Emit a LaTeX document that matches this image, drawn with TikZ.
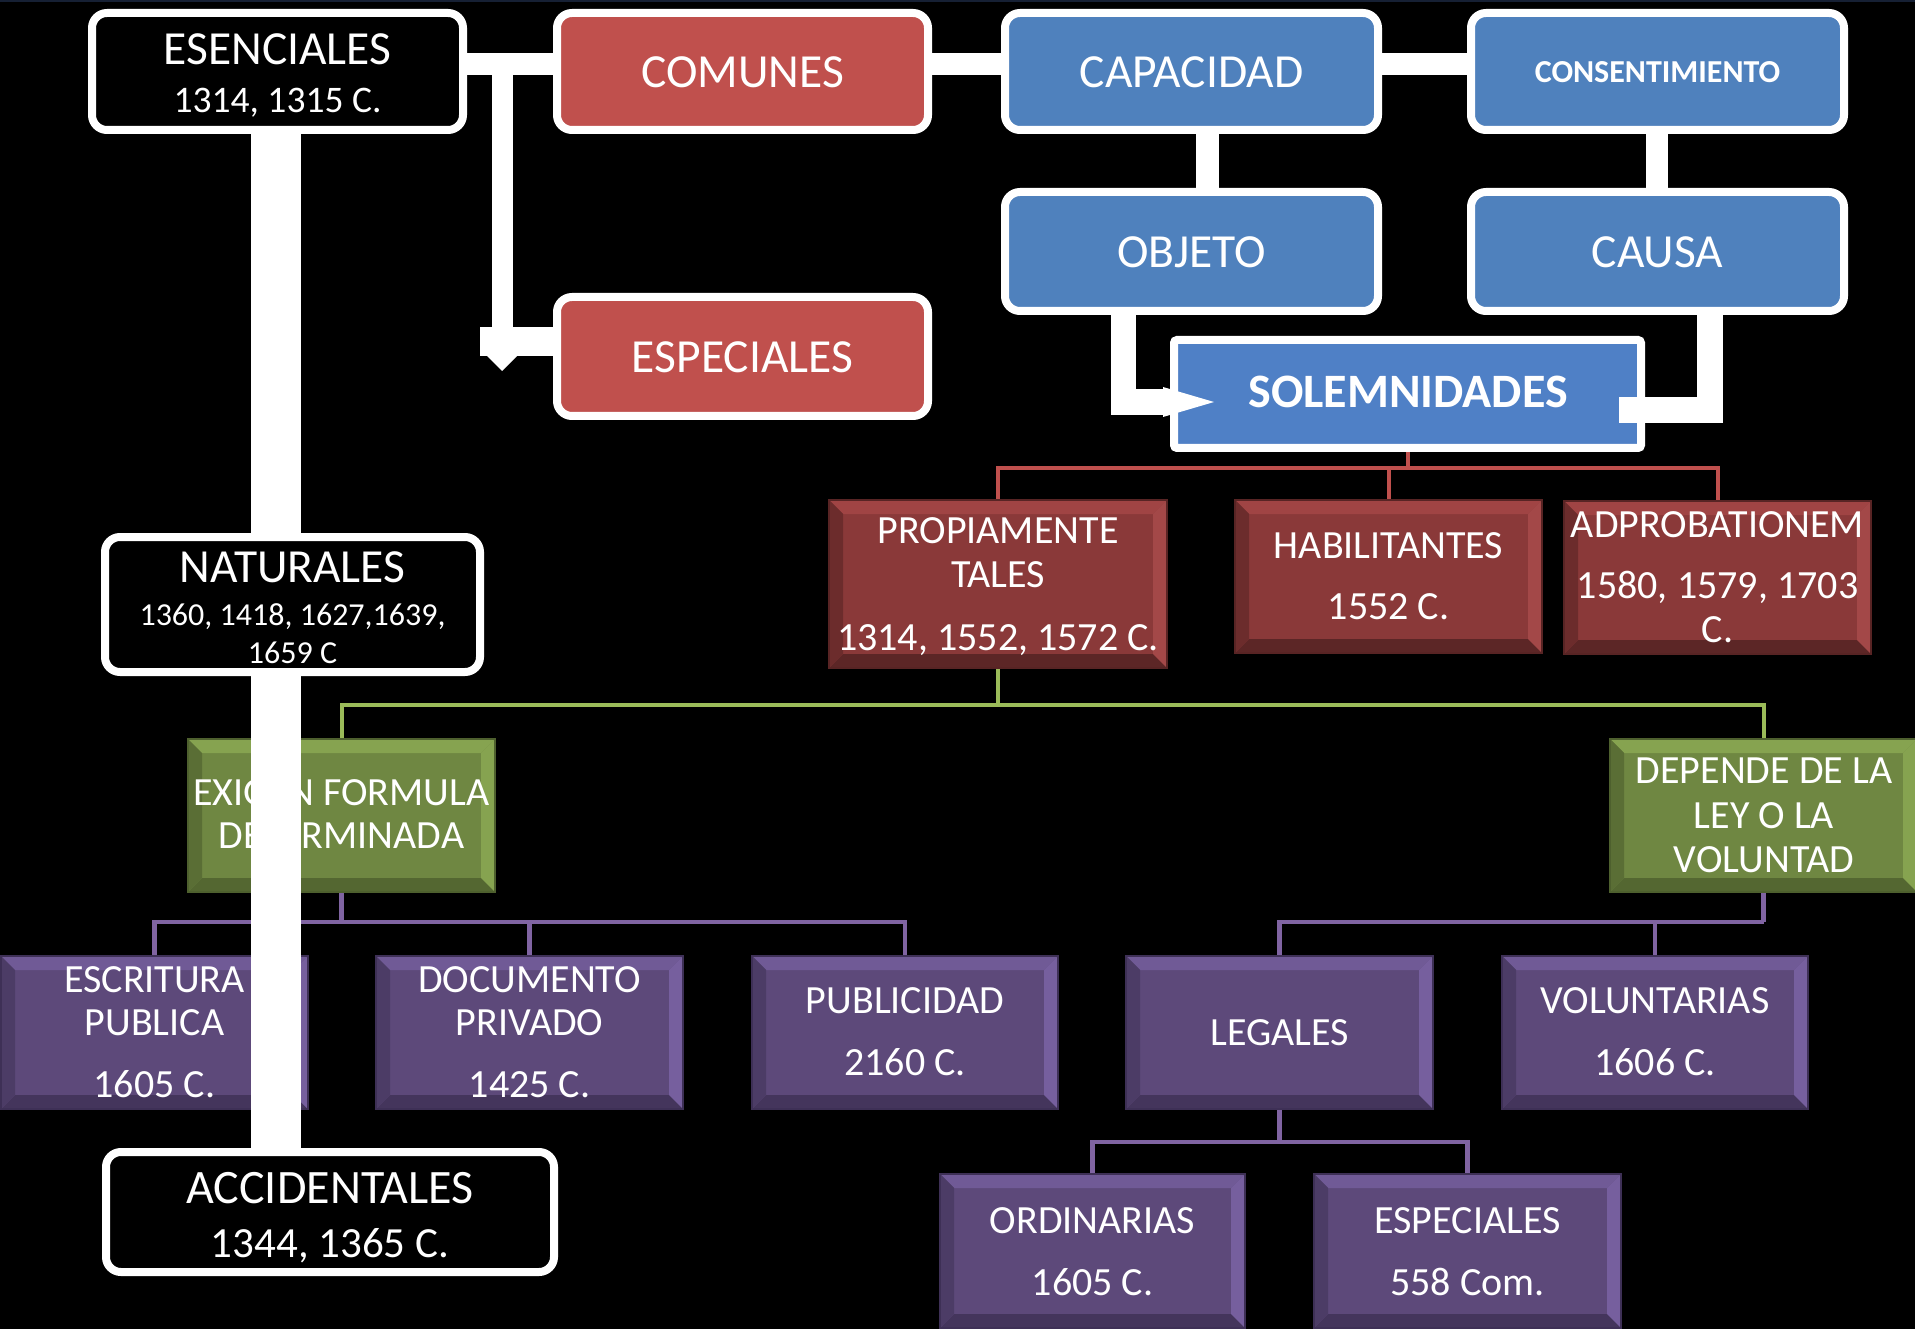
\documentclass[tikz,border=0pt]{standalone}
\usepackage{fontspec}
\newfontfamily\fcal{Carlito}
\usetikzlibrary{calc}
\definecolor{topblue}{RGB}{79,129,189}
\definecolor{solblue}{RGB}{79,128,198}
\definecolor{topred}{RGB}{192,80,77}
\definecolor{navy}{RGB}{22,32,52}
\definecolor{redF}{RGB}{138,57,57}
\definecolor{redT}{RGB}{160,68,68}
\definecolor{redL}{RGB}{108,44,44}
\definecolor{redR}{RGB}{163,72,72}
\definecolor{redB}{RGB}{92,38,38}
\definecolor{redD}{RGB}{88,36,36}
\definecolor{purF}{RGB}{93,73,122}
\definecolor{purT}{RGB}{112,90,150}
\definecolor{purL}{RGB}{76,60,102}
\definecolor{purR}{RGB}{118,95,158}
\definecolor{purB}{RGB}{68,53,92}
\definecolor{purD}{RGB}{62,48,86}
\definecolor{grnF}{RGB}{111,135,66}
\definecolor{grnT}{RGB}{134,163,80}
\definecolor{grnL}{RGB}{90,110,53}
\definecolor{grnR}{RGB}{134,163,80}
\definecolor{grnB}{RGB}{84,103,49}
\definecolor{grnD}{RGB}{78,96,46}
\definecolor{lnred}{RGB}{192,80,77}
\definecolor{lngrn}{RGB}{155,187,89}
\definecolor{lnpur}{RGB}{128,100,162}
\pgfdeclarelayer{back}
\pgfdeclarelayer{lines}
\pgfdeclarelayer{bev}
\pgfdeclarelayer{bar}
\pgfdeclarelayer{front}
\pgfsetlayers{back,lines,bev,bar,main,front}
\tikzset{
  bev/.style={fill=#1F, draw=#1D, line width=2pt, inner sep=0pt,
    path picture={
      \path (path picture bounding box.north west) coordinate (bvnw)
            (path picture bounding box.north east) coordinate (bvne)
            (path picture bounding box.south west) coordinate (bvsw)
            (path picture bounding box.south east) coordinate (bvse);
      \fill[#1T] (bvnw) -- (bvne) -- ([shift={(-14pt,-14pt)}]bvne) -- ([shift={(14pt,-14pt)}]bvnw) -- cycle;
      \fill[#1B] (bvsw) -- (bvse) -- ([shift={(-14pt,14pt)}]bvse) -- ([shift={(14pt,14pt)}]bvsw) -- cycle;
      \fill[#1L] (bvnw) -- ([shift={(14pt,-14pt)}]bvnw) -- ([shift={(14pt,14pt)}]bvsw) -- (bvsw) -- cycle;
      \fill[#1R] (bvne) -- ([shift={(-14pt,-14pt)}]bvne) -- ([shift={(-14pt,14pt)}]bvse) -- (bvse) -- cycle;
    }},
  rbox/.style={draw=white, line width=8pt, rounded corners=15pt, fill=#1, inner sep=0pt},
  solbox/.style={draw=white, line width=8pt, rounded corners=3pt, fill=solblue, inner sep=0pt},
  tx/.style={text=white, inner sep=0pt, anchor=base},
  tA/.style={tx, font=\fcal\fontsize{47.5}{50}\selectfont},
  tAc/.style={tx, font=\fcal\fontsize{48}{50}\selectfont},
  tN/.style={tx, font=\fcal\fontsize{37.5}{40}\selectfont},
  tM/.style={tx, font=\fcal\fontsize{43}{47}\selectfont},
  tS/.style={tx, font=\fcal\fontsize{32}{35}\selectfont},
  tB/.style={tx, font=\fcal\bfseries\fontsize{32}{35}\selectfont},
  tSol/.style={tx, font=\fcal\bfseries\fontsize{48}{50}\selectfont},
  tL/.style={tx, font=\fcal\fontsize{40}{43}\selectfont},
  redln/.style={draw=lnred, line width=4pt},
  grnln/.style={draw=lngrn, line width=4pt},
  purln/.style={draw=lnpur, line width=4.5pt},
}
\begin{document}
\begin{tikzpicture}[x=1pt,y=-1pt]
\useasboundingbox (0,0) rectangle (1915,1329);
\begin{pgfonlayer}{back}
  \fill[black] (0,0) rectangle (1915,1329);
  \fill[navy] (0,0) rectangle (1915,2.5);
\end{pgfonlayer}

% ---- rounded boxes (main layer)
\node[rbox=black, minimum width=371pt, minimum height=117pt] (ese) at (277.5,71.5) {};
\node[rbox=topred, minimum width=371pt, minimum height=117pt] (com) at (742.5,71.5) {};
\node[rbox=topred, minimum width=371pt, minimum height=119pt] (esr) at (742.5,356.5) {};
\node[rbox=topblue, minimum width=373pt, minimum height=117pt] (cap) at (1191.5,71.5) {};
\node[rbox=topblue, minimum width=373pt, minimum height=117pt] (cons) at (1657.5,71.5) {};
\node[rbox=topblue, minimum width=373pt, minimum height=119pt] (obj) at (1191.5,251.5) {};
\node[rbox=topblue, minimum width=373pt, minimum height=119pt] (cau) at (1657.5,251.5) {};
\node[rbox=black, minimum width=375pt, minimum height=135pt] (nat) at (292.5,604.5) {};
\node[rbox=black, minimum width=448pt, minimum height=120pt] (acc) at (330,1212) {};
\node[solbox, minimum width=467pt, minimum height=108pt] (sol) at (1407.5,394) {};

% ---- bevel boxes
\begin{pgfonlayer}{bev}
\node[bev=red, minimum width=338pt, minimum height=168pt] (prop) at (998,584) {};
\node[bev=red, minimum width=307pt, minimum height=153pt] (hab) at (1388.5,576.5) {};
\node[bev=red, minimum width=307pt, minimum height=153pt] (adp) at (1717.5,577.5) {};
\node[bev=grn, minimum width=307pt, minimum height=153pt] (exi) at (341.5,815.5) {};
\node[bev=grn, minimum width=307pt, minimum height=153pt] (dep) at (1763.5,815.5) {};
\node[bev=pur, minimum width=307pt, minimum height=153pt] (esc) at (154.5,1032.5) {};
\node[bev=pur, minimum width=307pt, minimum height=153pt] (doc) at (529.5,1032.5) {};
\node[bev=pur, minimum width=306pt, minimum height=153pt] (pub) at (905,1032.5) {};
\node[bev=pur, minimum width=307pt, minimum height=153pt] (leg) at (1279.5,1032.5) {};
\node[bev=pur, minimum width=306pt, minimum height=153pt] (vol) at (1655,1032.5) {};
\node[bev=pur, minimum width=305pt, minimum height=154pt] (ord) at (1092.5,1251) {};
\node[bev=pur, minimum width=307pt, minimum height=154pt] (espp) at (1467.5,1251) {};
% texts of bevel boxes (under the white bar)
\node[tL] (prop-a) at (998,543) {PROPIAMENTE};
\node[tL] (prop-b) at (998,587) {TALES};
\node[tL] (prop-c) at (998,650) {1314, 1552, 1572 C.};
\node[tL] (hab-a) at (1388.5,558) {HABILITANTES};
\node[tL] (hab-b) at (1388.5,619) {1552 C.};
\node[tL] (adp-a) at (1717.5,537) {ADPROBATIONEM};
\node[tL] (adp-b) at (1717.5,598) {1580, 1579, 1703};
\node[tL] (adp-c) at (1717.5,642) {C.};
\node[tL] (exi-a) at (341.5,805) {EXIGEN FORMULA};
\node[tL] (exi-b) at (341.5,848) {DETERMINADA};
\node[tL] (dep-a) at (1764,783) {DEPENDE DE LA};
\node[tL] (dep-b) at (1764,828) {LEY O LA};
\node[tL] (dep-c) at (1764,872) {VOLUNTAD};
\node[tL] (esc-a) at (154.5,992) {ESCRITURA};
\node[tL] (esc-b) at (154.5,1035) {PUBLICA};
\node[tL] (esc-c) at (154.5,1097) {1605 C.};
\node[tL] (doc-a) at (529.5,992) {DOCUMENTO};
\node[tL] (doc-b) at (529.5,1035) {PRIVADO};
\node[tL] (doc-c) at (529.5,1097) {1425 C.};
\node[tL] (pub-a) at (905,1013) {PUBLICIDAD};
\node[tL] (pub-b) at (905,1075) {2160 C.};
\node[tL] (leg-a) at (1279.5,1045) {LEGALES};
\node[tL] (vol-a) at (1655,1013) {VOLUNTARIAS};
\node[tL] (vol-b) at (1655,1075) {1606 C.};
\node[tL] (ord-a) at (1092.5,1233) {ORDINARIAS};
\node[tL] (ord-b) at (1092.5,1295) {1605 C.};
\node[tL] (espp-a) at (1467.5,1233) {ESPECIALES};
\node[tL] (espp-b) at (1467.5,1295) {558 Com.};
\end{pgfonlayer}

% ---- thin coloured connectors
\begin{pgfonlayer}{lines}
\coordinate (rj) at ($(sol.south)+(0,16)$);
\draw[redln] (sol.south) -- (rj) (rj) -| (prop.north) (rj) -| (hab.north) (rj) -| (adp.north);
\coordinate (gj) at ($(prop.south)+(0,36)$);
\draw[grnln] (prop.south) -- (gj) (gj) -| (exi.north) (gj) -| (dep.north);
\coordinate (pa) at ($(exi.south)+(0,29)$);
\draw[purln] (exi.south) -- (pa) (pa) -| (esc.north) (pa) -| (doc.north) (pa) -| (pub.north);
\coordinate (pb) at ($(dep.south)+(0,29)$);
\draw[purln] (dep.south) -- (pb) (pb) -| (leg.north) (pb) -| (vol.north);
\coordinate (pc) at ($(leg.south)+(0,32)$);
\draw[purln] (leg.south) -- (pc) (pc) -| (ord.north) (pc) -| (espp.north);
\end{pgfonlayer}

% ---- thick white connectors
\begin{pgfonlayer}{bar}
\fill[white] ($(ese.east)+(0,-18.5)$) rectangle ($(cons.west)+(0,3.5)$);
\fill[white] ($(ese.south)+(-26.5,0)$) rectangle ($(ese.south |- acc.north)+(23.5,0)$);
\fill[white] ($(cap.south)+(4.5,0)$) rectangle ($(obj.north)+(27.5,0)$);
\fill[white] ($(cons.south)+(-11.5,0)$) rectangle ($(cau.north)+(10.5,0)$);
\coordinate (kb) at (492,64);
\fill[white] (kb) rectangle (513,332);
\fill[white] (480,327) rectangle (esr.west);
\fill[white] (487,356) -- (517,356) -- (502,371) -- cycle;
\end{pgfonlayer}

% ---- elbows into SOLEMNIDADES and texts
\begin{pgfonlayer}{front}
\fill[white] ($(obj.south)+(-80.5,0)$) rectangle (1136,415);
\fill[white] (1111,389) rectangle ($(sol.west)+(0,21)$);
\fill[white] (1163,387) -- (1214,402) -- (1163,417) -- cycle;
\fill[white] ($(cau.south)+(39.5,0)$) rectangle (1723,423);
\fill[white] (1619,397) rectangle (1723,423);

\node[tA] (ese-a) at (277.5,65) {ESENCIALES};
\node[tN] (ese-b) at (277.5,113) {1314, 1315 C.};
\node[tA] (com-a) at (742.5,88) {COMUNES};
\node[tA] (esr-a) at (742.5,373) {ESPECIALES};
\node[tA] (cap-a) at (1191.5,88) {CAPACIDAD};
\node[tB] (cons-a) at (1657.5,83) {CONSENTIMIENTO};
\node[tA] (obj-a) at (1191.5,268) {OBJETO};
\node[tA] (cau-a) at (1657.5,268) {CAUSA};
\node[tSol] (sol-a) at (1408,408) {SOLEMNIDADES};
\node[tA] (nat-a) at (292.5,582) {NATURALES};
\node[tS] (nat-b) at (292.5,625) {1360, 1418, 1627,1639,};
\node[tS] (nat-c) at (292.5,663) {1659 C};
\node[tAc] (acc-a) at (330,1203) {ACCIDENTALES};
\node[tM] (acc-b) at (330,1257) {1344, 1365 C.};
\end{pgfonlayer}
\end{tikzpicture}
\end{document}
